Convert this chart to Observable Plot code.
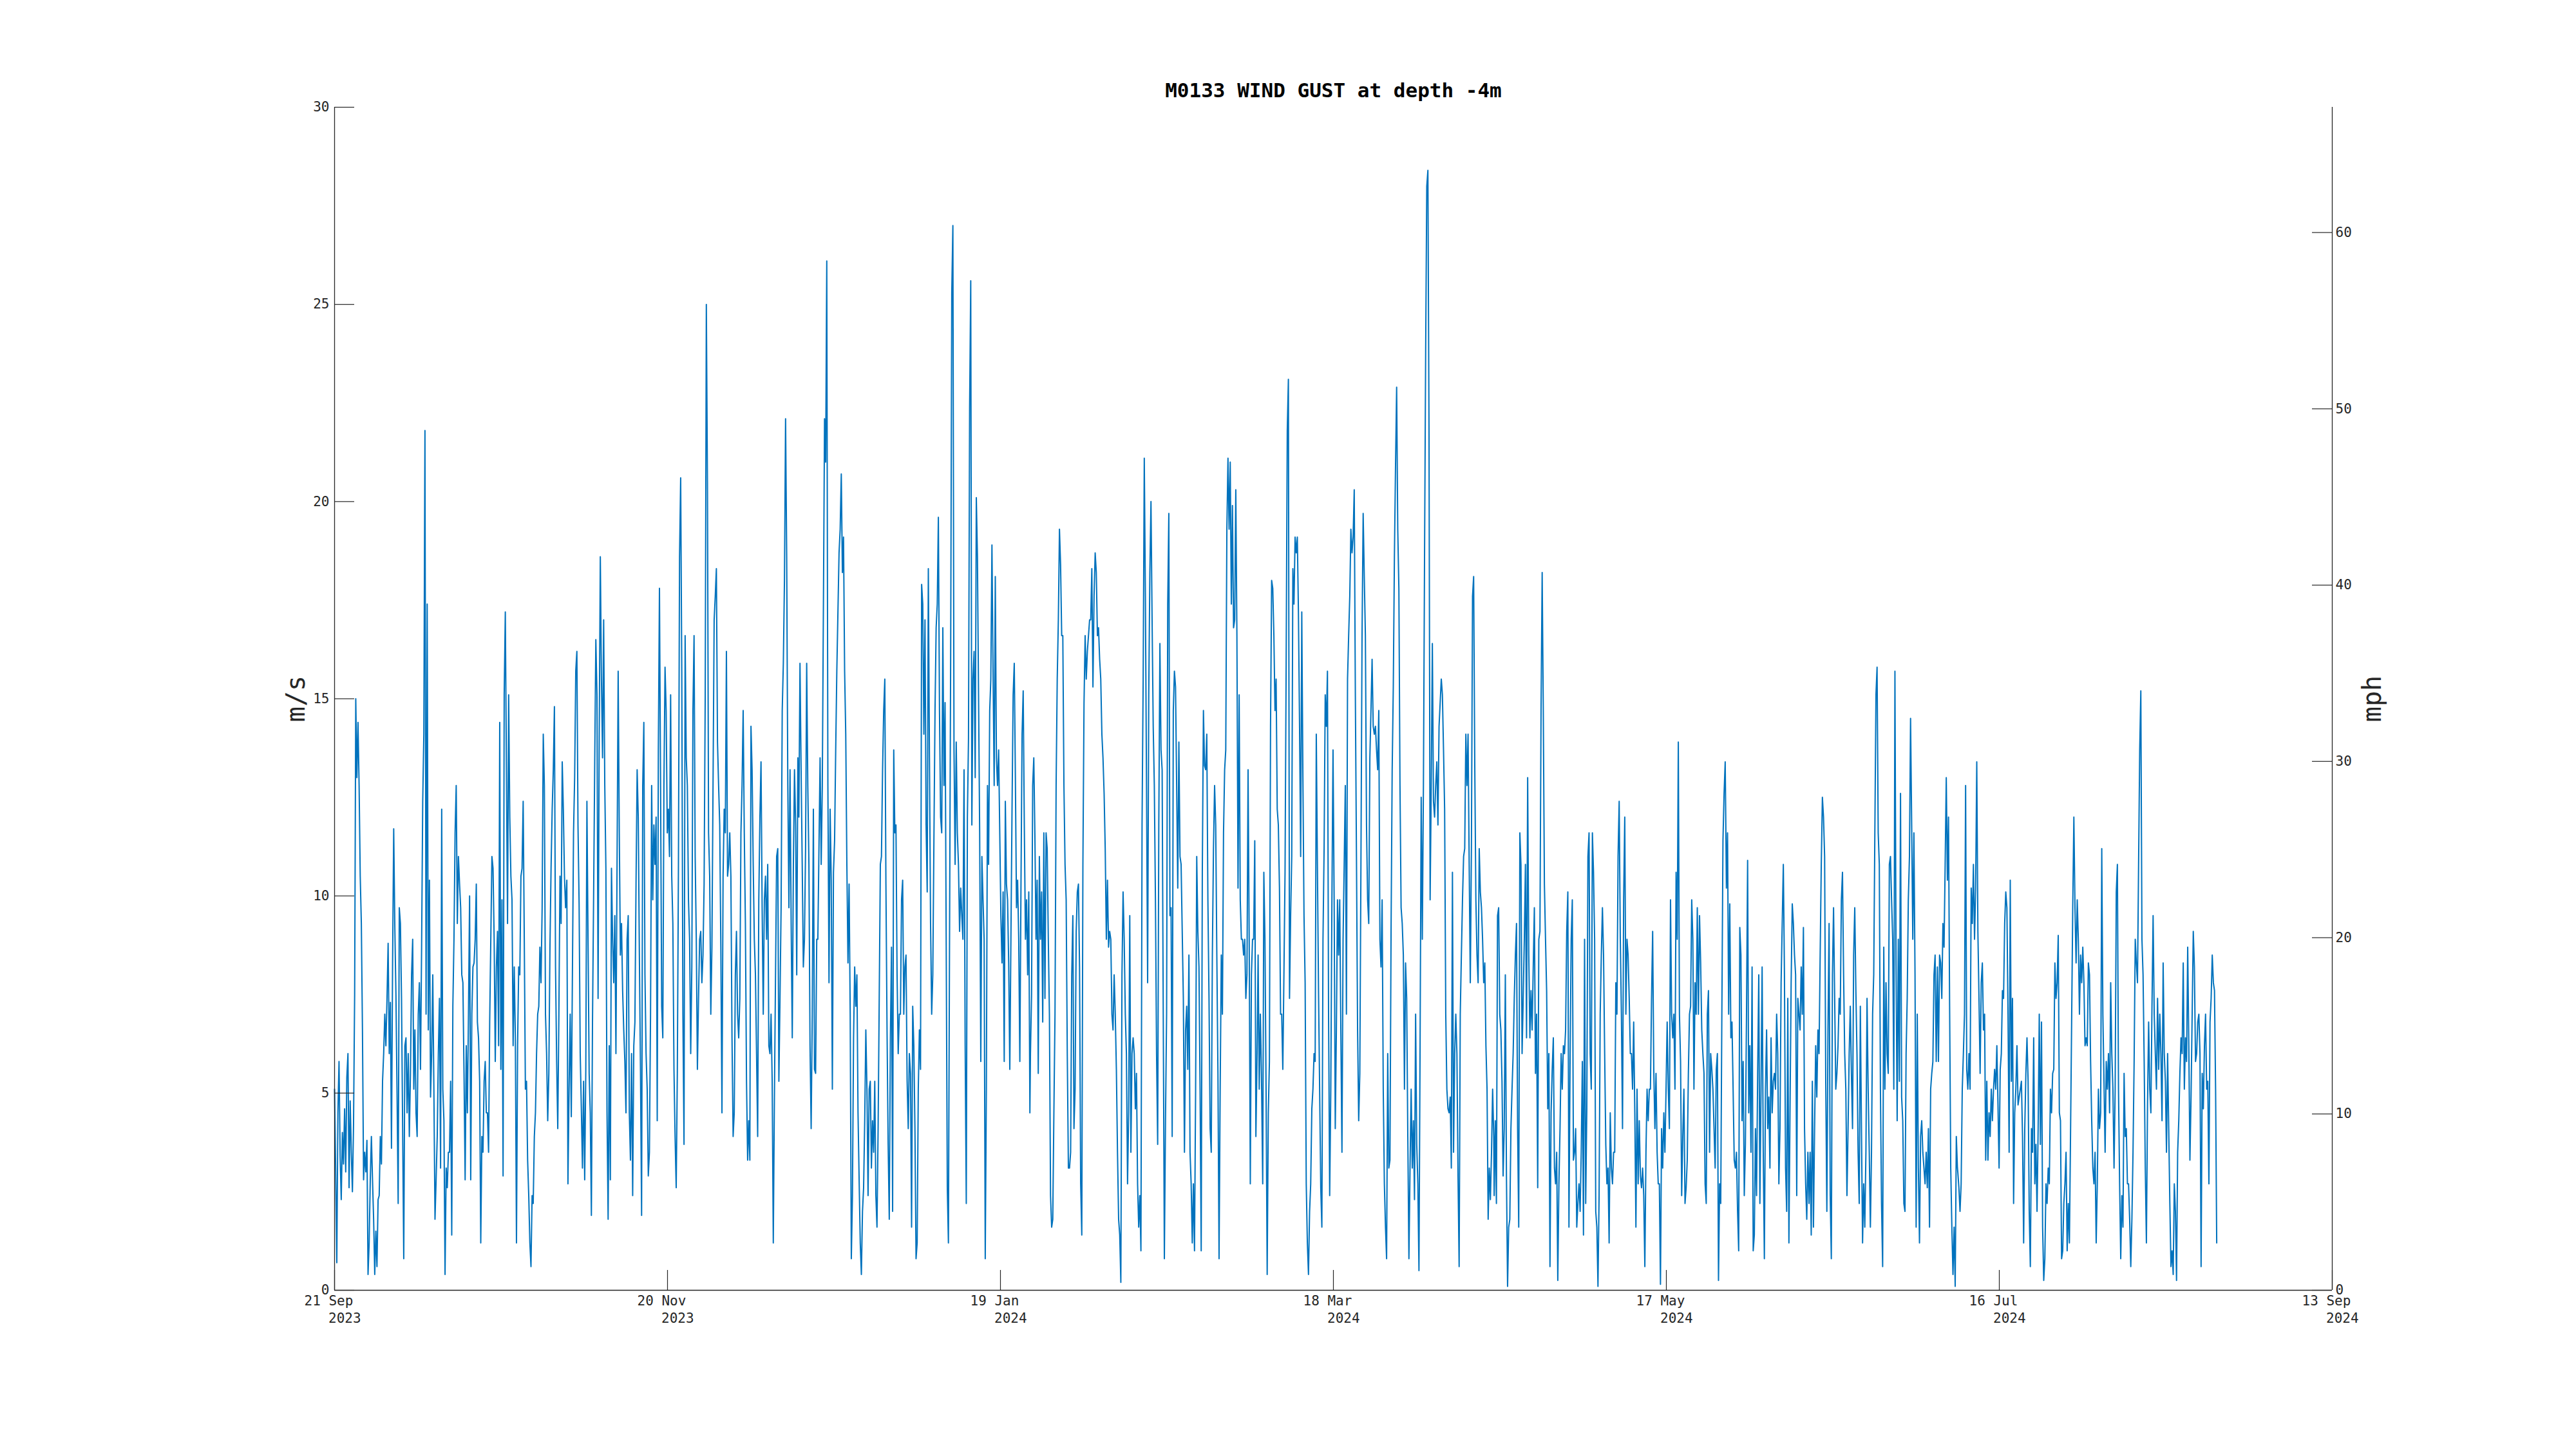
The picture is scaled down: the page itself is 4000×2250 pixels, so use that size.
<!DOCTYPE html>
<html><head><meta charset="utf-8">
<script src="https://cdn.jsdelivr.net/npm/d3@7"></script>
<script src="https://cdn.jsdelivr.net/npm/@observablehq/plot@0.6"></script>
<style>html,body{margin:0;padding:0;background:#fff;} #chart svg{display:block;}</style>
</head><body><div id="chart"></div>
<script>
const title = "M0133 WIND GUST at depth -4m";
const yLabelLeft = "m/s";
const yLabelRight = "mph";
const xStart = "2023-09-21T18:00Z";
const xEnd = "2024-09-13T18:00Z";
const yTicks = [0, 5, 10, 15, 20, 25, 30];
const mphTicks = [0, 10, 20, 30, 40, 50, 60];
const sampleHours = 4.8;
const segmentStarts = ["2023-09-21T18:00Z","2023-11-02T09:00Z","2023-12-13T23:00Z","2024-01-24T11:00Z","2024-03-06T02:00Z","2024-04-16T13:30Z","2024-05-28T04:20Z","2024-07-08T15:30Z"];

const seg1 = [5.1,3.0,0.7,4.5,5.8,3.4,2.3,4.0,3.2,4.6,3.0,5.4,6.0,2.6,4.8,3.5,2.5,4.2,7.5,15.0,13.0,14.4,12.8,10.5,9.3,6.6,2.8,3.5,3.0,3.8,0.4,1.2,2.8,3.9,2.8,1.8,0.4,1.5,0.6,2.3,2.4,3.9,3.2,5.3,6.0,7.0,6.2,7.4,8.8,6.0,7.3,3.6,8.3,11.7,9.2,7.5,5.0,2.2,9.7,9.3,7.4,4.1,0.8,6.2,6.4,4.5,6.0,3.9,5.5,8.0,8.9,5.1,6.6,4.5,3.9,7.0,7.8,5.6,8.7,12.4,14.1,21.8,7.0,17.4,6.6,10.4,4.9,6.0,8.0,5.1,1.8,2.8,3.9,6.0,7.4,3.1,12.2,5.1,4.3,0.4,3.1,2.6,3.5,3.5,5.3,1.4,7.2,8.9,11.6,12.8,9.3,11.0,10.3,9.7,8.0,7.8,5.5,2.8,6.2,4.5,7.0,10.0,2.8,7.0,8.2,8.3,8.9,10.3,6.8,6.4,5.3,1.2,3.9,3.5,5.3,5.8,4.5,4.5,3.5,6.8,8.9,11.0,10.7,8.9,5.8,8.2,9.1,6.2,14.4,5.6,9.9,2.9,15.1,17.2,13.2,9.3,15.1,12.0,10.5,9.9,6.2,8.2,6.4,1.2,6.2,8.2,8.0,10.5,10.7,12.4,8.9,5.1,5.3,3.3,2.4,1.2,0.6,2.4,2.2,3.9,4.5,6.0,7.0,7.2,8.7,7.8,9.7,14.1,12.8,7.0,6.0,4.3,5.5,8.7,10.7,12.2,13.2,14.8,8.2,5.8,4.1,7.0,10.5,9.3,13.4,12.2,10.5,9.7];
const seg2 = [10.4,2.7,5.1,7.0,4.4,8.0,11.6,13.0,15.7,16.2,11.8,9.8,6.0,4.6,3.1,5.3,2.8,5.6,12.4,8.9,5.5,4.5,1.9,6.8,10.0,13.4,16.5,15.1,7.4,14.0,18.6,15.5,13.5,17.0,12.8,10.7,4.5,1.8,6.2,2.8,10.7,8.9,7.8,9.5,6.0,10.8,15.7,11.6,8.5,9.3,7.6,6.6,5.8,4.5,8.9,9.5,4.5,3.3,6.0,2.4,6.2,6.8,10.3,13.2,12.0,8.5,5.6,1.9,12.8,14.4,8.0,6.0,5.1,2.9,3.5,7.0,12.8,9.9,11.8,10.8,12.0,4.3,13.7,17.8,12.8,7.2,6.4,12.8,15.8,14.7,11.6,12.2,11.0,15.1,10.5,9.3,5.6,3.9,2.6,5.5,10.7,18.6,20.6,15.7,7.0,3.7,16.6,13.5,12.8,9.9,8.9,6.0,8.2,14.7,16.6,11.0,8.9,5.6,7.4,8.9,9.1,7.8,8.5,10.3,15.1,25.0,20.5,11.6,10.5,7.0,8.7,12.8,17.0,17.6,18.3,13.9,12.8,11.8,8.7,4.5,10.5,12.2,11.6,16.2,10.5,10.8,11.6,10.5,6.4,3.9,4.5,8.0,9.1,7.0,6.4,7.4,11.6,12.8,14.7,11.6,9.3,5.3,3.3,4.3,3.3,14.3,13.2,10.8,8.9,8.0,6.0,3.9,9.9,12.0,13.4,9.7,7.0,9.9,10.5,8.9,10.8,6.2,6.0,7.0,5.3,1.2,4.9,8.0,11.0,11.2,5.3,7.4,9.7,14.7,15.9,18.0,22.1,18.6,12.8,9.7,13.2,9.3,6.4,10.8,13.2,11.8,8.0,13.5];
const seg3 = [12.0,15.9,13.2,10.8,8.2,8.9,11.2,15.9,12.8,10.8,6.2,4.1,7.0,12.2,5.6,5.5,8.9,8.9,11.2,13.5,10.8,12.8,17.4,22.1,21.0,26.1,12.8,7.8,12.2,10.4,5.1,10.6,11.4,13.7,15.7,17.2,18.7,19.3,20.7,18.2,19.1,15.7,14.1,10.8,8.3,10.3,7.0,0.8,2.4,6.4,8.2,7.2,8.0,4.5,2.8,1.2,0.4,2.0,2.6,4.3,6.6,5.1,2.4,5.1,5.3,3.1,4.3,3.5,5.3,2.4,1.6,4.1,7.4,10.8,11.0,13.2,14.7,15.5,10.3,6.6,3.7,1.8,6.4,8.7,2.0,13.7,11.6,11.8,8.0,6.0,7.0,7.0,9.9,10.4,7.0,8.2,8.5,5.3,4.1,6.0,5.5,1.6,7.2,6.2,4.1,0.8,1.2,5.1,6.6,5.6,17.9,17.4,14.1,17.0,11.8,10.1,18.3,13.5,9.3,7.0,8.0,11.4,14.7,16.8,17.4,19.6,14.7,12.0,11.6,16.8,12.8,14.9,8.9,2.6,1.2,8.9,16.0,25.3,27.0,13.7,10.8,13.9,11.6,10.8,9.1,10.2,9.5,8.9,13.2,6.2,2.2,12.0,14.0,22.4,25.6,11.8,15.5,16.2,13.0,20.1,18.6,15.1,11.6,5.8,11.0,9.9,8.9,0.8,5.1,12.8,10.8,14.7,15.5,18.9,15.7,12.8,18.1,13.5,12.8,13.7,11.6,9.5,8.3,10.1,5.8,12.4,10.3,9.9,8.3,5.6,8.9,12.2,15.1,15.9,13.0,9.7,10.4,8.9,5.8,10.2,14.1,15.2,11.8,8.9,9.9,8.0,10.1,4.5];
const seg4 = [6.0,7.5,12.8,13.5,11.5,8.9,10.4,5.5,11.0,8.9,10.1,6.8,11.6,7.4,11.6,11.2,8.9,7.0,2.4,1.6,1.8,4.5,7.0,12.8,15.5,17.0,19.3,18.4,16.6,16.6,12.8,10.8,9.9,6.0,3.1,3.1,3.5,8.0,9.5,4.1,5.1,9.1,10.1,10.3,8.2,2.7,1.4,10.8,14.9,16.6,15.5,16.2,16.6,17.0,17.0,18.3,15.3,17.6,18.7,18.2,16.6,16.8,16.0,15.5,14.1,13.5,12.6,11.2,8.9,10.4,8.7,9.1,8.9,7.0,6.6,8.0,7.0,5.6,3.5,1.8,1.4,0.2,8.0,10.1,8.9,7.0,6.0,2.7,4.5,9.5,3.5,6.0,6.4,6.0,4.6,5.5,2.7,1.6,2.4,1.0,11.8,15.5,21.1,17.6,12.8,7.8,15.1,18.2,20.0,17.0,14.3,12.8,9.9,6.0,3.7,11.8,16.4,13.7,13.2,7.0,0.8,4.3,7.0,17.4,19.7,9.5,9.7,3.9,14.7,15.7,15.3,12.8,10.2,13.9,11.0,10.8,9.1,7.4,3.5,6.6,7.2,5.6,8.5,3.5,2.7,1.2,2.7,1.0,5.1,11.0,9.1,8.2,5.1,1.0,10.6,14.7,13.3,13.2,14.1,9.9,7.4,4.1,3.5,8.5,11.2,12.8,11.8,8.5,5.5,0.8,5.1,8.5,7.0,11.6,13.2,13.7,19.3,21.1,19.3,21.0,17.4,19.9,16.8,17.0,20.3,16.6,10.2,15.1,9.9,8.9,8.9,8.5,8.9,7.4,8.0,13.2,8.9,2.7,8.0,8.9,8.9,11.4,3.9,5.8,8.5,5.1,7.0,5.5];
const seg5 = [2.7,10.6,8.9,5.1,0.4,4.5,5.8,14.3,18.0,17.8,16.6,14.7,15.5,12.2,11.8,10.2,7.0,7.0,5.6,8.0,10.6,15.9,21.8,23.1,7.4,9.5,11.0,18.3,17.4,19.1,18.7,19.1,17.2,14.3,11.0,17.2,13.0,9.5,7.8,2.7,1.2,0.4,2.0,2.7,4.6,5.1,6.0,5.8,14.1,10.8,7.6,5.1,2.6,1.6,8.9,11.2,15.1,14.3,15.7,7.0,2.4,5.1,9.9,13.7,9.9,4.1,6.6,9.9,8.5,9.9,6.6,3.5,8.9,10.8,12.8,7.0,15.5,16.6,17.6,19.3,18.7,19.1,20.3,15.1,11.0,6.6,4.3,5.5,10.8,16.6,19.7,18.1,16.6,11.8,9.9,9.3,13.5,14.7,16.0,14.3,14.1,14.3,13.7,13.2,14.7,8.9,8.2,9.9,5.1,2.7,1.6,0.8,6.0,3.1,3.3,9.1,13.2,15.3,18.6,20.9,22.9,19.3,17.8,12.8,9.7,9.3,8.5,5.1,8.3,7.4,3.9,0.8,3.1,5.1,3.1,4.3,2.3,7.0,3.7,2.7,0.5,6.2,12.5,8.9,12.8,18.6,23.8,28.0,28.4,21.8,9.9,12.8,16.4,12.4,12.0,12.8,13.4,11.8,14.3,14.9,15.5,15.1,13.7,12.2,7.0,5.1,4.6,4.5,4.9,3.1,10.6,3.5,6.0,7.0,6.0,2.9,0.6,7.0,8.5,9.9,11.0,11.2,14.1,12.8,14.1,10.8,7.8,11.2,17.6,18.1,13.3,9.9,8.5,7.8,11.2,10.1,9.7,8.9,7.8,8.3,6.2,5.1,1.8,3.1,2.3,3.5,5.1,3.9];
const seg6 = [2.4,4.3,2.2,9.5,9.7,7.0,6.6,5.3,2.9,4.1,8.0,2.9,0.1,1.6,1.8,4.1,5.1,6.0,7.4,8.5,9.3,4.1,1.6,11.6,10.8,6.0,7.4,8.9,10.8,6.4,13.0,8.5,6.4,7.6,6.6,8.2,9.7,5.5,7.0,2.6,8.9,9.1,14.7,18.2,14.7,10.3,8.9,7.6,4.6,6.0,0.6,4.5,5.6,6.4,3.1,2.7,3.5,0.25,2.7,4.1,6.0,5.1,6.2,6.0,6.6,9.1,10.1,1.6,5.8,8.9,9.9,3.3,3.5,4.1,1.6,2.2,2.7,2.0,3.5,5.8,1.4,8.9,2.2,4.6,11.0,11.6,6.0,5.1,11.6,10.6,8.9,2.0,1.6,0.1,2.4,7.0,8.5,9.7,8.5,6.0,3.7,2.7,3.1,1.2,4.5,3.1,2.7,3.5,3.5,7.8,7.0,11.0,12.4,8.9,7.0,4.1,9.9,12.0,7.0,8.9,8.5,7.4,6.0,6.0,5.1,6.8,4.5,1.6,5.1,2.7,4.3,2.9,2.6,3.1,2.4,0.6,3.5,5.1,4.3,5.1,5.1,7.4,9.1,5.6,4.1,5.5,3.5,2.7,2.7,0.15,4.1,3.1,4.5,3.5,5.1,6.8,5.1,4.1,9.9,7.0,6.4,7.0,5.1,10.6,8.9,13.9,7.0,5.8,2.4,3.9,5.1,2.2,2.6,3.3,5.5,7.0,7.2,9.9,8.9,5.1,7.8,7.0,9.7,7.0,9.5,8.3,6.6,6.0,5.5,2.7,2.2,7.0,7.6,3.5,6.0,5.6,5.1,4.1,3.1,5.6,6.0,0.25,2.7,2.2,7.0,11.4,12.6,13.4];
const seg7 = [10.2,11.6,7.0,9.8,6.4,6.8,5.1,3.3,3.1,3.5,2.0,1.0,9.2,8.5,4.3,5.8,2.4,3.7,7.0,10.9,4.5,6.2,3.5,8.2,1.0,1.4,4.1,2.4,5.5,8.0,2.2,5.1,8.2,3.5,0.8,5.1,6.6,4.1,4.9,3.1,6.4,4.5,5.3,5.5,5.1,7.0,6.0,2.7,4.1,7.8,9.3,10.8,8.0,3.1,2.0,7.4,1.2,4.6,7.8,9.8,9.3,8.5,8.0,2.4,7.4,7.0,6.6,8.2,7.0,9.2,4.1,2.7,1.8,3.5,2.2,3.5,1.4,5.3,1.6,4.1,6.2,4.9,6.6,6.0,8.5,10.8,12.5,12.0,11.0,5.3,2.0,6.6,9.3,2.4,0.8,8.0,9.7,7.4,5.1,5.5,6.2,7.4,7.0,9.9,10.6,8.0,6.0,5.1,2.4,4.1,6.0,7.2,5.5,4.1,8.5,9.7,7.6,6.0,3.5,2.2,7.2,4.1,1.2,2.7,1.6,3.5,7.4,5.1,3.5,1.6,3.5,7.0,8.0,11.6,15.1,15.8,11.6,10.8,5.1,2.2,0.6,8.7,5.1,7.8,6.0,5.5,10.8,11.0,9.9,8.9,5.1,15.7,8.3,4.3,8.9,5.3,12.6,4.9,4.3,2.2,2.0,6.0,7.4,9.9,11.0,14.5,11.8,8.9,11.6,8.0,1.6,7.0,3.1,1.2,3.9,4.3,3.5,3.1,2.7,3.5,2.6,4.1,1.6,5.1,5.5,5.8,8.0,8.5,5.8,8.2,5.8,8.5,8.3,7.4,9.3,8.7,10.8,13.0,10.4,12.0,7.2,3.1,1.6,0.4,1.6,0.1,3.9,3.1];
const seg8 = [3.0,2.6,2.0,2.7,5.1,6.0,7.0,12.8,5.6,5.1,6.0,5.1,10.2,9.3,10.8,8.9,10.2,13.4,9.1,7.4,5.5,7.8,8.3,6.6,7.0,3.3,5.3,3.3,4.5,3.9,5.1,4.3,5.1,5.6,5.1,6.2,4.7,3.1,5.6,6.0,7.6,7.4,9.3,10.1,9.7,7.0,3.5,10.4,5.3,7.4,2.2,4.5,5.1,6.2,4.7,4.9,5.1,5.3,3.9,1.2,4.1,5.5,6.4,5.3,2.0,0.6,4.1,3.5,6.4,2.7,3.7,2.0,4.1,7.0,3.7,6.8,1.6,0.25,0.8,2.7,2.2,3.1,2.7,5.1,4.5,5.5,5.6,8.3,7.4,7.8,9.0,4.5,4.3,0.8,1.0,2.2,2.7,3.5,1.0,2.2,1.2,3.9,6.8,9.7,12.0,9.7,8.3,9.9,8.9,7.0,8.5,7.8,8.7,7.8,6.2,6.4,6.2,8.3,8.0,5.8,4.3,3.1,2.7,3.5,1.2,2.7,5.1,4.1,4.5,11.2,7.0,5.3,3.5,5.8,5.1,6.0,4.5,7.8,6.0,5.1,3.1,5.1,10.1,10.8,5.1,2.7,0.8,2.4,1.6,5.5,3.9,4.1,2.7,2.7,1.8,0.6,1.8,3.5,5.8,8.9,8.3,7.8,10.8,13.7,15.2,8.9,8.0,5.8,3.1,1.2,4.7,6.8,5.1,4.5,7.2,9.5,7.0,6.0,5.1,7.4,5.6,7.0,6.0,4.3,8.3,6.0,5.3,3.5,6.0,4.1,2.2,0.6,1.0,0.4,2.7,2.0,0.25,3.5,4.3,5.5,6.4,6.0,8.3,5.1,6.4,5.8,8.7,6.2,3.3,4.9,7.0,9.1,8.2,5.8,6.0,6.8,7.0,6.0,0.6,5.5,4.6,6.2,7.0,5.1,5.3,2.7,6.8,7.4,8.5,7.8,7.6,5.1,1.2];

const segments = [seg1, seg2, seg3, seg4, seg5, seg6, seg7, seg8];
const data = [];
segments.forEach((vals, k) => {
  const t = Date.parse(segmentStarts[k]);
  vals.forEach((v, i) => data.push({time: new Date(t + i * sampleHours * 3600e3), gust: v}));
});

const W = 4000, H = 2250;
const mL = 519, mR = 379, mT = 166, mB = 247;
const t0 = new Date(xStart), t1 = new Date(xEnd);
const span = t1 - t0;
const xTicks = d3.range(7).map(k => new Date(+t0 + k * span / 6));
const tickFrac = 0.01;                       // tick length, fraction of x axis
const plotW = W - mL - mR, plotH = H - mT - mB;
const yTickLen = 30 * tickFrac * plotW / plotH;
const axisColor = "#262626";
const mps2mph = 2.23694;
const fmtDay = d3.utcFormat("%d %b"), fmtYear = d3.utcFormat("%Y");

const chart = Plot.plot({
  width: W, height: H,
  marginLeft: mL, marginRight: mR, marginTop: mT, marginBottom: mB,
  style: {fontFamily: "'DejaVu Sans Mono', monospace", background: "#fff", color: axisColor},
  x: {type: "utc", domain: [t0, t1], axis: null},
  y: {domain: [0, 30], axis: null},
  marks: [
    Plot.line(data, {x: "time", y: "gust", stroke: "#0072BD", strokeWidth: 2}),
    // axis lines
    Plot.ruleX([t0, t1], {y1: 0, y2: 30, stroke: axisColor, strokeWidth: 1.3}),
    Plot.ruleY([0], {x1: t0, x2: t1, stroke: axisColor, strokeWidth: 1.3}),
    // inward ticks
    Plot.ruleY(yTicks, {y: d => d, x1: t0, x2: new Date(+t0 + tickFrac * span), stroke: axisColor, strokeWidth: 1.2}),
    Plot.ruleY(mphTicks, {y: d => d / mps2mph, x1: new Date(+t1 - tickFrac * span), x2: t1, stroke: axisColor, strokeWidth: 1.2}),
    Plot.ruleX(xTicks, {x: d => d, y1: 0, y2: yTickLen, stroke: axisColor, strokeWidth: 1.2}),
    // tick labels
    Plot.text(yTicks, {y: d => d, text: d => String(d), frameAnchor: "left", textAnchor: "end", lineAnchor: "middle", dx: -8, fontSize: 21, fill: axisColor}),
    Plot.text(mphTicks, {y: d => d / mps2mph, text: d => String(d), frameAnchor: "right", textAnchor: "start", lineAnchor: "middle", dx: 5, fontSize: 21, fill: axisColor}),
    Plot.text(xTicks, {x: d => d, text: d => fmtDay(d), frameAnchor: "bottom", textAnchor: "start", lineAnchor: "middle", dx: -47, dy: 17, fontSize: 21, fill: axisColor}),
    Plot.text(xTicks, {x: d => d, text: d => fmtYear(d), frameAnchor: "bottom", textAnchor: "start", lineAnchor: "middle", dx: -9.5, dy: 44, fontSize: 21, fill: axisColor}),
    // axis labels
    Plot.text([yLabelLeft], {frameAnchor: "left", textAnchor: "middle", lineAnchor: "middle", rotate: -90, dx: -59, fontSize: 40, fill: axisColor}),
    Plot.text([yLabelRight], {frameAnchor: "right", textAnchor: "middle", lineAnchor: "middle", rotate: -90, dx: 63, fontSize: 40, fill: axisColor}),
    // title
    Plot.text([title], {frameAnchor: "top", textAnchor: "middle", lineAnchor: "middle", dy: -25, fontSize: 31, fontWeight: "bold", fill: "#000"})
  ]
});
document.getElementById("chart").appendChild(chart);
</script>
</body></html>
